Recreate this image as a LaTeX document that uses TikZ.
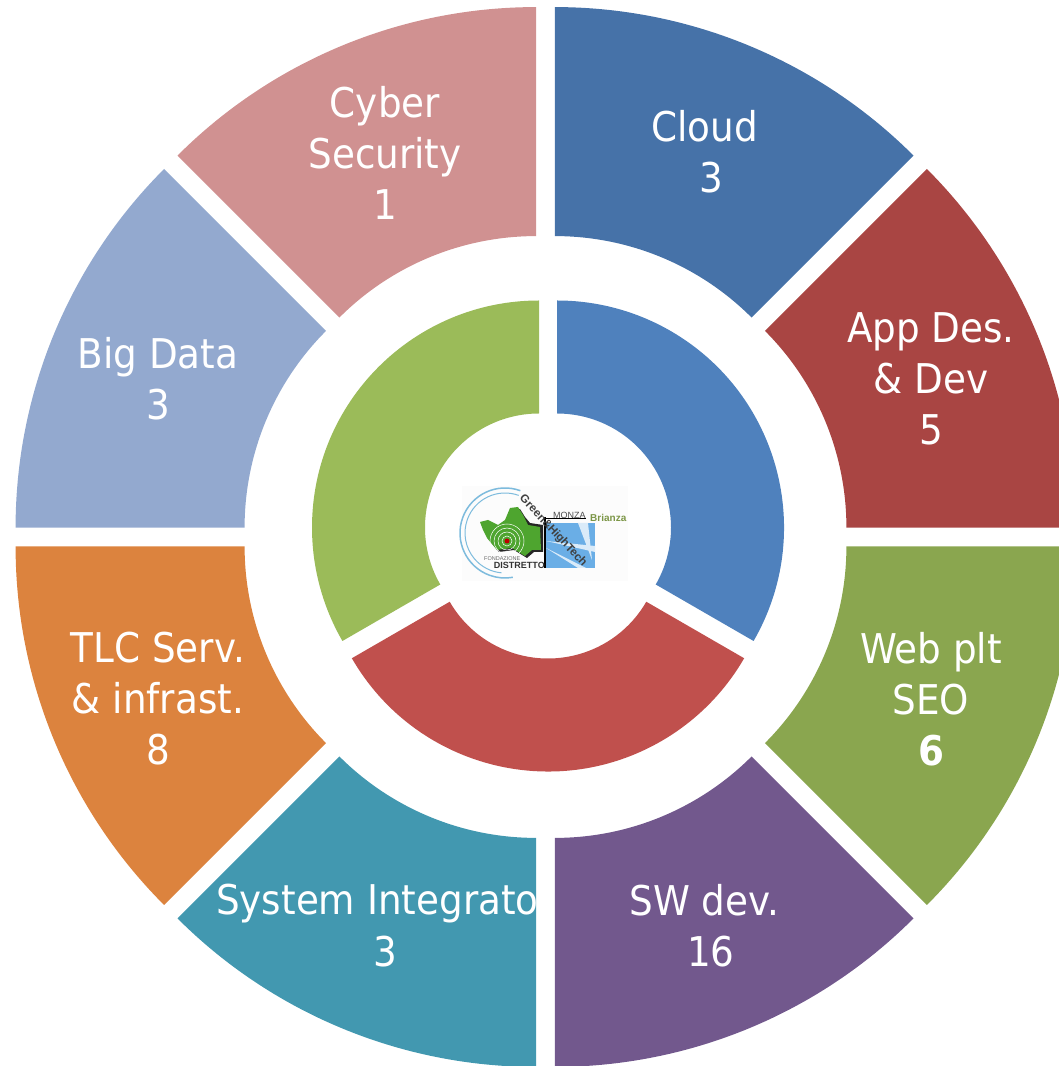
\documentclass[tikz,border=0pt]{standalone}
\usepackage{fontspec}
\setmainfont[FakeStretch=0.91]{DejaVu Sans}
\newfontfamily\logofont{Liberation Sans}
\definecolor{cCyber}{HTML}{D09191}
\definecolor{cCloud}{HTML}{4672A8}
\definecolor{cApp}{HTML}{A94543}
\definecolor{cWeb}{HTML}{8AA64F}
\definecolor{cSW}{HTML}{72588D}
\definecolor{cSys}{HTML}{4298B0}
\definecolor{cTLC}{HTML}{DC833E}
\definecolor{cBig}{HTML}{93A9CF}
\definecolor{cBlue}{HTML}{4F81BD}
\definecolor{cRed}{HTML}{C0504D}
\definecolor{cGreen}{HTML}{9BBB59}
\definecolor{cMap}{HTML}{4EA52F}
\definecolor{cArc}{HTML}{7DBBDD}
\definecolor{cSky}{HTML}{6AAEE6}
% apex x, apex y, start angle, end angle, outer radius, inner radius, colour
\newcommand\ringsector[7]{%
  \fill[#7] ({#1+#5*cos(#3)},{#2+#5*sin(#3)})
    arc[start angle=#3,end angle=#4,radius=#5]
    -- ({#1+#6*cos(#4)},{#2+#6*sin(#4)})
    arc[start angle=#4,end angle=#3,radius=#6] -- cycle;}
% outer ring sector: the apex moves out along the bisector
\newcommand\outersector[3]{%
  \pgfmathsetmacro\apx{545.5+24.8*cos((#1+#2)/2)}%
  \pgfmathsetmacro\apy{529+24.8*sin((#1+#2)/2)}%
  \ringsector{\apx}{\apy}{#1}{#2}{507}{278}{#3}}
\tikzset{
  lab/.style={text=white,align=center,inner sep=0pt,
    font=\fontsize{41}{51}\selectfont},
  logoflip/.style={shift={(0,1066)},yscale=-1}
}
\begin{document}
\begin{tikzpicture}[x=1pt,y=1pt]
\useasboundingbox (0,0) rectangle (1059,1066);
\clip (0,0) rectangle (1059,1066);
% outer ring
\outersector{45}{90}{cCloud}
\outersector{0}{45}{cApp}
\outersector{-45}{0}{cWeb}
\outersector{-90}{-45}{cSW}
\outersector{-135}{-90}{cSys}
\outersector{180}{225}{cTLC}
\outersector{135}{180}{cBig}
\outersector{90}{135}{cCyber}
% inner ring
\ringsector{557}{538.5}{-30}{90}{227}{114}{cBlue}
\ringsector{548}{521}{210}{330}{226.5}{113.5}{cRed}
\ringsector{539}{538.5}{90}{210}{227}{114}{cGreen}
% labels
\node[lab] (cyber) at (385,913.5) {Cyber\\Security\\1};
\node[lab] (cloud) at (711,914) {Cloud\hspace*{13pt}\\3};
\node[lab] (app) at (931,687) {App Des.\\\& Dev\\5};
\node[lab] (web) at (931,367) {Web plt\\SEO\\\textbf{6}};
\node[lab] (sw) at (711,140.5) {SW dev.\hspace*{13pt}\\16};
\begin{scope}
  \clip (150,60) rectangle (536,200);
  \node[lab,anchor=west] (sys) at (216,162) {System Integrato};
\end{scope}
\node[lab] (sys3) at (385,114) {3};
\node[lab] (tlc) at (158,367) {TLC Serv.\\\& infrast.\\8};
\node[lab] (big) at (158,687) {Big Data\\3};
% logo
\begin{scope}[logoflip]
\fill[white!99!black] (462,486) rectangle (628,581);
\draw[cArc,line width=1pt] (505,533) ++(-70:40) arc[start angle=-70,end angle=-265,radius=40];
\draw[cArc,line width=1.5pt] (505,533) ++(-70:45) arc[start angle=-70,end angle=-280,radius=45];
\fill[black!85] (482,524) -- (490,522) -- (500,527) -- (507,522) -- (512,510) -- (520,509) -- (525,517) -- (530,523) -- (543,525) -- (543,552) -- (534,552) -- (527,558) -- (514,550) -- (499,552) -- (489,540) -- cycle;
\fill[cMap] (480,522) -- (488,520) -- (498,525) -- (505,520) -- (510,508) -- (518,507) -- (523,515) -- (528,525) -- (540,527) -- (541,550) -- (532,550) -- (525,556) -- (512,548) -- (497,550) -- (487,538) -- (483,530) -- cycle;
\draw[white,line width=.5pt] (507,541) circle[radius=5] (507,541) circle[radius=9] (507,541) circle[radius=13] (507,541) circle[radius=17];
\fill[red!75!black] (507,541) circle[radius=2.5];
\fill[cSky] (546,523) rectangle (595,568);
\fill[white!75!cSky] (546,541) -- (595,552) -- (595,546) -- cycle;
\fill[white!75!cSky] (546,548) -- (578,568) -- (586,568) -- cycle;
\fill[white!75!cSky] (578,523) -- (592,560) -- (588,523) -- cycle;
\draw[black,line width=1.5pt] (545,517) -- (545,568);
\draw[black,line width=1pt] (545,519) -- (586,519);
\node[inner sep=0pt,anchor=west,text=black!70,font=\logofont\fontsize{9}{9}\selectfont] (monza) at (553,515) {MONZA};
\node[inner sep=0pt,anchor=west,text=cGreen!80!black,font=\logofont\bfseries\fontsize{10}{10}\selectfont] (brianza) at (590,518) {Brianza};
\node[inner sep=0pt,anchor=west,text=black!60,font=\logofont\fontsize{5.5}{5.5}\selectfont] (fondz) at (484,559) {FONDAZIONE};
\node[inner sep=0pt,anchor=east,text=black!80,font=\logofont\bfseries\fontsize{9}{9}\selectfont] (dist) at (545,565) {DISTRETTO};
\node[rotate=-47,inner sep=0pt,text=black!75,font=\logofont\bfseries\fontsize{11.5}{11.5}\selectfont] (gh) at (553,531) {Green\&HighTech};
\end{scope}
\end{tikzpicture}
\end{document}
